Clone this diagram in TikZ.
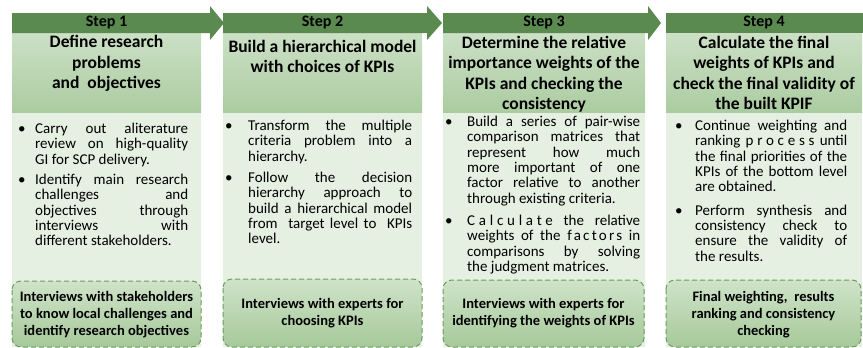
\documentclass[tikz,border=0pt]{standalone}
\usepackage{fontspec}
\setmainfont{Carlito}
\definecolor{hdrG}{HTML}{5A8A4F}
\definecolor{titTop}{HTML}{CCE0C5}
\definecolor{titBot}{HTML}{ABCCA1}
\definecolor{bodyG}{HTML}{E5EFE2}
\definecolor{dashTop}{HTML}{CFE3C8}
\definecolor{dashBot}{HTML}{A6C99B}
\definecolor{dashLine}{HTML}{6B9D5D}
\tolerance=10000
\hbadness=10000
\newcommand{\bul}[2]{\noindent\hangindent=#1\hangafter=1\makebox[#1][l]{\hspace{1pt}\textbullet}#2\par}
\tikzset{
  hdrshape/.style={fill=hdrG, draw=none},
  titleshape/.style={top color=titTop, bottom color=titBot, draw=none},
  bodyshape/.style={fill=bodyG, draw=none},
  dashshape/.style={draw=dashLine, line width=1pt, dash pattern=on 5pt off 3pt, rounded corners=9pt, top color=dashTop, bottom color=dashBot},
  steplabel/.style={font=\fontsize{16}{19}\selectfont\bfseries, inner sep=0pt},
  titlelabel/.style={font=\fontsize{17.5}{20.5}\selectfont\bfseries, align=center, anchor=north, inner sep=0pt},
  bodylabel/.style={font=\fontsize{15}{15.3}\selectfont, anchor=north west, inner sep=0pt, align=justify},
  dashlabel/.style={font=\fontsize{14.5}{17}\selectfont\bfseries, align=center, inner sep=0pt},
}
\begin{document}
\begin{tikzpicture}[x=1pt,y=-1pt]
\useasboundingbox (0,0) rectangle (863,348);
% body boxes
\path[bodyshape] (12,112) rectangle (201,347);
\path[bodyshape] (223,112) rectangle (422,347);
\path[bodyshape] (443,112) rectangle (645,347);
\path[bodyshape] (666,112) rectangle (862,347);
% title boxes
\path[titleshape] (12,33) rectangle (201,112);
\path[titleshape] (223,33) rectangle (422,112);
\path[titleshape] (443,33) rectangle (645,112);
\path[titleshape] (666,33) rectangle (862,112);
% header arrows
\path[hdrshape] (12,13) -- (210,13) -- (210,6) -- (224,23) -- (210,40) -- (210,33) -- (12,33) -- cycle;
\path[hdrshape] (223,13) -- (427,13) -- (427,6) -- (442,23) -- (427,40) -- (427,33) -- (223,33) -- cycle;
\path[hdrshape] (443,13) -- (648,13) -- (648,6) -- (661,23) -- (648,40) -- (648,33) -- (443,33) -- cycle;
\path[hdrshape] (666,13) rectangle (863,33);
% step labels
\node[steplabel] (s1) at (106.5,23) {Step 1};
\node[steplabel] (s2) at (322.5,23) {Step 2};
\node[steplabel] (s3) at (544,23) {Step 3};
\node[steplabel] (s4) at (764,23) {Step 4};
% titles
\node[titlelabel] (t1) at (106.5,35) {Define research\\problems\\and~ objectives};
\node[titlelabel] (t2) at (322.5,40) {Build a hierarchical model\\with choices of KPIs};
\node[titlelabel] (t3) at (544,35.5) {Determine the relative\\importance weights of the\\KPIs and checking the\\consistency};
\node[titlelabel] (t4) at (764,35.5) {Calculate the final\\weights of KPIs and\\check the final validity of\\the built KPIF};
% bodies
\node[bodylabel, text width=171pt] (b1) at (17,123) {%
\bul{18pt}{Carry out aliterature\linebreak review on high-quality\linebreak GI for SCP delivery.}\vspace{5pt}%
\bul{18pt}{Identify main research\linebreak challenges and\linebreak objectives through\linebreak interviews with\linebreak different stakeholders.}};
\node[bodylabel, text width=188pt] (b2) at (224,120) {%
\bul{24pt}{Transform the multiple\linebreak criteria problem into a\linebreak hierarchy.}\vspace{6pt}%
\bul{24pt}{Follow the decision\linebreak hierarchy approach to\linebreak build a hierarchical model\linebreak from~ target level to~ KPIs\linebreak level.}};
\node[bodylabel, text width=196pt] (b3) at (444,116) {%
\bul{23pt}{Build a series of pair-wise\linebreak comparison matrices that\linebreak represent how much\linebreak more important of one\linebreak factor relative to another\linebreak through existing criteria.}\vspace{7pt}%
\bul{23pt}{{\addfontfeature{LetterSpace=25}Calculate} the relative\linebreak weights of the {\addfontfeature{LetterSpace=15}factors} in\linebreak comparisons by solving\linebreak the judgment matrices.}};
\node[bodylabel, text width=173pt] (b4) at (674,120) {%
\bul{21pt}{Continue weighting and\linebreak ranking {\addfontfeature{LetterSpace=25}process} until\linebreak the final priorities of the\linebreak KPIs of the bottom level\linebreak are obtained.}\vspace{8pt}%
\bul{21pt}{Perform synthesis and\linebreak consistency check to\linebreak ensure the validity of\linebreak the results.}};
% dashed boxes
\path[dashshape] (12,281) rectangle (201,347);
\path[dashshape] (223,279) rectangle (422,347);
\path[dashshape] (443,280) rectangle (644,347);
\path[dashshape] (666,280) rectangle (861,347);
\node[dashlabel] (d1) at (106.5,314.5) {Interviews with stakeholders\\to know local challenges and\\identify research objectives};
\node[dashlabel] (d2) at (322.5,313) {Interviews with experts for\\choosing KPIs};
\node[dashlabel] (d3) at (543.5,313.5) {Interviews with experts for\\identifying the weights of KPIs};
\node[dashlabel] (d4) at (763.5,314.5) {Final weighting,~ results\\ranking and consistency\\checking};
\end{tikzpicture}
\end{document}
